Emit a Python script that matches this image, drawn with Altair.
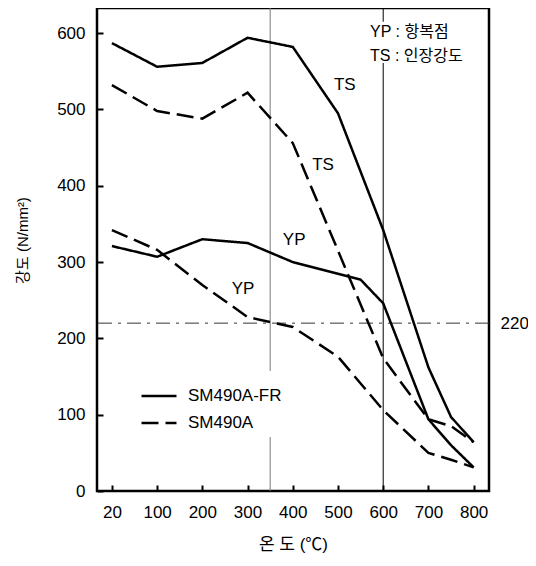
import json
import altair as alt
import pandas as pd

# ---- data ----
steels = ["SM490A-FR", "SM490A"]

fr_ts_t = [20, 100, 200, 300, 400, 500, 600, 700, 750, 800]
fr_ts_v = [587, 556, 561, 594, 582, 495, 342, 162, 97, 64]
fr_yp_t = [20, 100, 200, 300, 400, 550, 600, 700, 750, 800]
fr_yp_v = [321, 307, 330, 325, 300, 277, 246, 94, 60, 31]
a_ts_t = [20, 100, 200, 300, 400, 500, 600, 700, 750, 800]
a_ts_v = [532, 498, 488, 522, 456, 315, 174, 94, 85, 64]
a_yp_t = [20, 100, 200, 300, 400, 500, 600, 700, 750, 800]
a_yp_v = [342, 316, 270, 228, 215, 176, 106, 50, 41, 31]

x_tick_labels = ["20", "100", "200", "300", "400", "500", "600", "700", "800"]
y_ticks = [0, 100, 200, 300, 400, 500, 600]

# curve labels (temperature, strength)
ann_text = ["TS", "TS", "YP", "YP"]
ann_t = [515, 467, 403, 290]
ann_v = [532, 427, 329, 265]

note_text = ["YP : 항복점", "TS : 인장강도"]
note_t = [571, 571]
note_v = [601, 570]

ref_strength = 220
vline_t = [350, 600, 600]
vline_v0 = [0, 0, 615]
vline_v1 = [633, 561, 633]
vline_c = ["#7a7a7a", "#000000", "#000000"]

FONT = "Liberation Sans, Noto Sans CJK KR"

rows = []
for steel, prop, ts, vs in [
    ("SM490A-FR", "TS", fr_ts_t, fr_ts_v),
    ("SM490A-FR", "YP", fr_yp_t, fr_yp_v),
    ("SM490A", "TS", a_ts_t, a_ts_v),
    ("SM490A", "YP", a_yp_t, a_yp_v),
]:
    for t, v in zip(ts, vs):
        rows.append({"steel": steel, "prop": prop, "t": t, "v": v})
df = pd.DataFrame(rows)
ann = pd.DataFrame({"label": ann_text, "t": ann_t, "v": ann_v})
notes = pd.DataFrame({"label": note_text, "t": note_t, "v": note_v})
vl = pd.DataFrame({"t": vline_t, "v0": vline_v0, "v1": vline_v1, "c": vline_c})
hl = pd.DataFrame({"v": [ref_strength]})

POS = "datum.t == 20 ? 0 : datum.t / 100"
xscale = alt.Scale(domain=[-0.33, 8.34], nice=False, zero=False)
yscale = alt.Scale(domain=[0, 633], nice=False, zero=True)
label_expr = json.dumps(x_tick_labels) + "[datum.value]"

xaxis = alt.Axis(
    values=list(range(len(x_tick_labels))), labelExpr=label_expr,
    offset=-6, tickSize=6, tickWidth=2, tickColor="black", domain=False, grid=False,
    labelPadding=13, labelFontSize=17, labelColor="black", labelFont=FONT,
    title="온 도 (℃)", titleFont=FONT, titleFontSize=17, titleFontWeight="normal",
    titlePadding=16, titleColor="black")


def X():
    return alt.X("pos:Q", scale=xscale, axis=xaxis, title="온 도 (℃)")


lines = alt.Chart(df).transform_calculate(pos=POS).mark_line(
    strokeWidth=2.5, color="black"
).encode(
    x=X(),
    y=alt.Y("v:Q", scale=yscale, axis=alt.Axis(
        values=y_ticks, offset=-6, tickSize=6, tickWidth=2, tickColor="black",
        domain=False, grid=False, labelPadding=12, labelFontSize=17, labelColor="black",
        labelFont=FONT, title="강도 (N/mm²)", titleFont=FONT, titleFontSize=15,
        titleFontWeight="normal", titlePadding=26, titleColor="black", titleY=232)),
    strokeDash=alt.StrokeDash("steel:N", scale=alt.Scale(domain=steels, range=[[1, 0], [17, 7]]),
        legend=alt.Legend(orient="none", legendX=37, legendY=363, title=None,
                          symbolType="stroke", symbolSize=1225, symbolStrokeWidth=2.5,
                          symbolStrokeColor="black", labelFontSize=17, labelFont=FONT,
                          labelColor="black", labelOffset=10, fillColor="white",
                          padding=6, rowPadding=-4)),
    detail="prop:N",
)

vrules = alt.Chart(vl).transform_calculate(pos=POS).mark_rule(strokeWidth=1).encode(
    x=X(),
    y=alt.Y("v0:Q", scale=yscale, axis=None),
    y2="v1:Q",
    color=alt.Color("c:N", scale=None),
)

hrule = alt.Chart(hl).mark_rule(strokeWidth=1, color="#333333", strokeDash=[14, 6, 3, 6]).encode(
    y=alt.Y("v:Q", scale=yscale, axis=alt.Axis(
        orient="right", values=[ref_strength], ticks=False, domain=False, grid=False,
        labelPadding=11, labelFontSize=17, labelFont=FONT, labelColor="black", title=None)),
)

anns = alt.Chart(ann).transform_calculate(pos=POS).mark_text(
    font=FONT, fontSize=17, color="black", align="center", baseline="middle"
).encode(
    x=X(),
    y=alt.Y("v:Q", scale=yscale, axis=None),
    text="label:N",
)

note_marks = alt.Chart(notes).transform_calculate(pos=POS).mark_text(
    font=FONT, fontSize=16, color="black", align="left", baseline="middle"
).encode(
    x=X(),
    y=alt.Y("v:Q", scale=yscale, axis=None),
    text="label:N",
)

chart = alt.layer(vrules, hrule, lines, anns, note_marks).resolve_axis(
    y="independent"
).properties(
    width=392, height=483,
    background="white",
    autosize=alt.AutoSizeParams(type="none"),
    padding={"left": 89, "top": 0, "right": 39, "bottom": 63},
).configure_view(stroke="black", strokeWidth=2.5)

chart.save("out.html", embed_options={"renderer": "svg", "actions": False})
